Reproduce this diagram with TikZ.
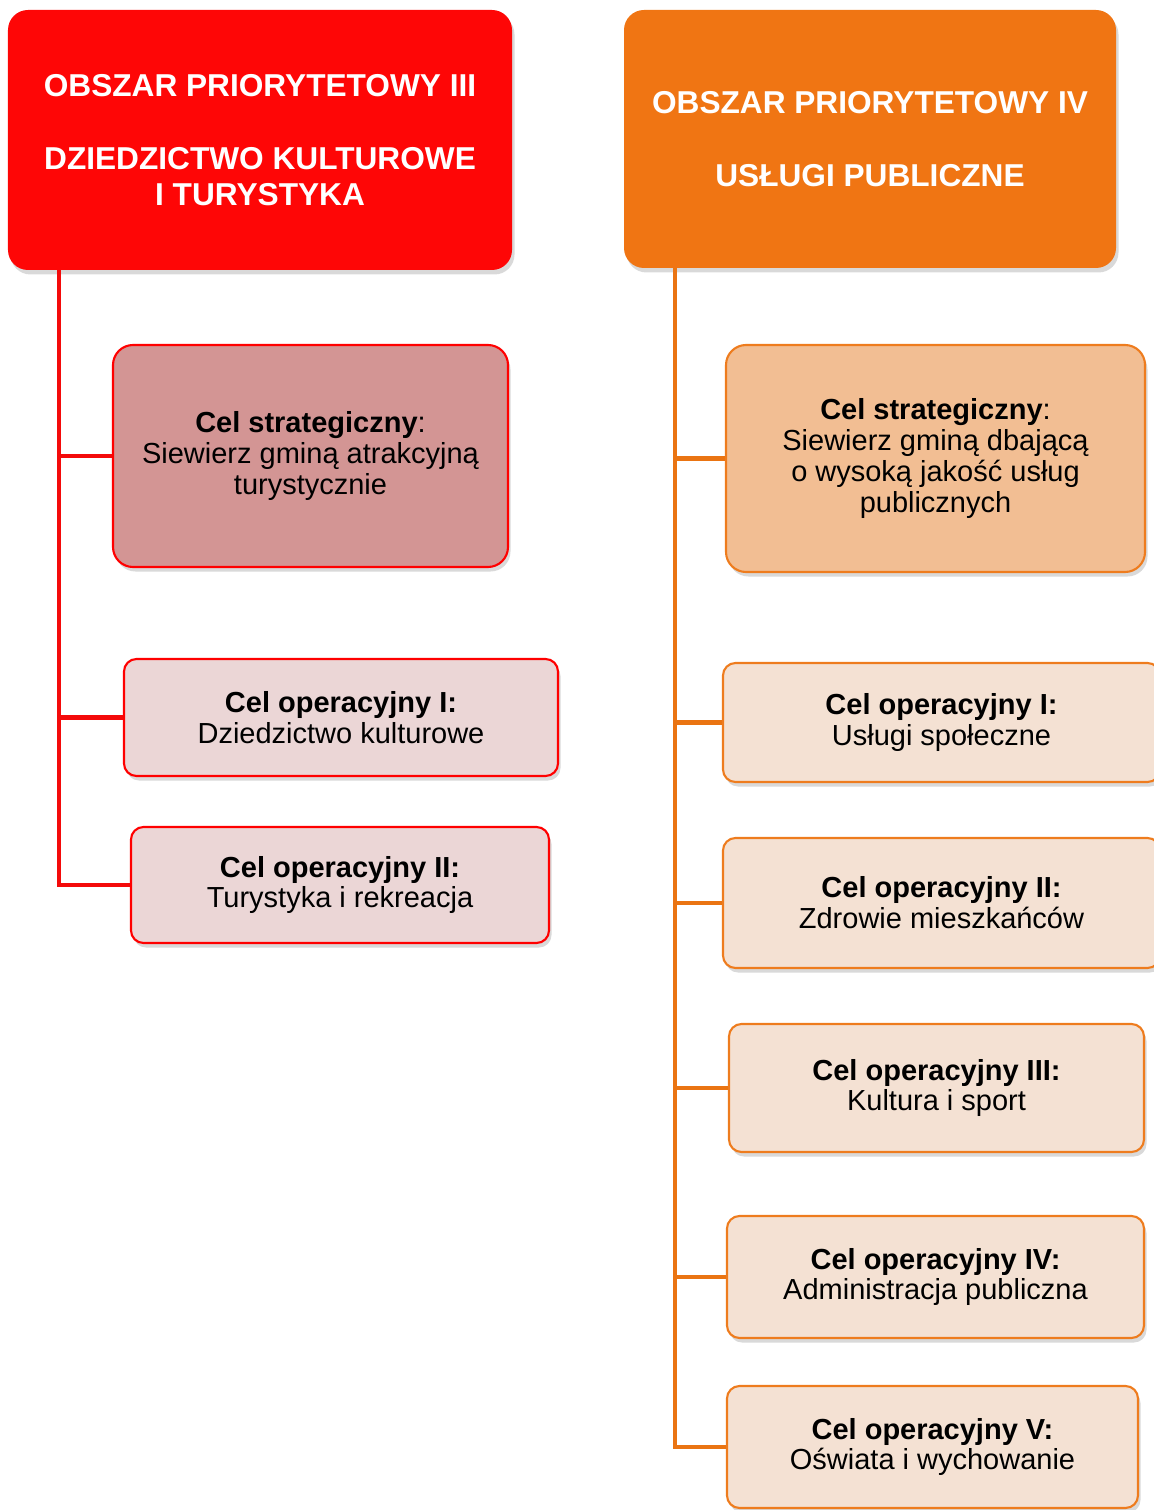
\documentclass[tikz,border=0pt]{standalone}
\usepackage{fontspec}
\setmainfont{Liberation Sans}
\usepackage{xcolor}
\usetikzlibrary{shadows,positioning}

\definecolor{hdrred}{HTML}{FE0606}
\definecolor{hdrorange}{HTML}{F07513}
\definecolor{lnred}{HTML}{F40A0A}
\definecolor{lnorange}{HTML}{EA7412}
\definecolor{stratred}{HTML}{D39594}
\definecolor{opred}{HTML}{EBD6D6}
\definecolor{stratorange}{HTML}{F2BE93}
\definecolor{oporange}{HTML}{F4E1D3}
\definecolor{bdorange}{HTML}{EE7C1E}

\begin{document}
\begin{tikzpicture}[
  shade/.style={drop shadow={opacity=0.3, shadow xshift=0.05cm, shadow yshift=-0.09cm}},
  hdr/.style={rounded corners=0.4cm, align=center, text=white, shade,
              font=\fontsize{18}{20.7}\selectfont\bfseries, inner sep=0pt},
  goal/.style={rounded corners=0.4cm, align=center, line width=1.2pt, shade,
               font=\fontsize{16.5}{17.5}\selectfont, inner sep=0pt},
  opbox/.style={rounded corners=0.25cm, align=center, line width=1.2pt, shade,
                font=\fontsize{16.5}{17.5}\selectfont, inner sep=0pt},
  redline/.style={draw=lnred, line width=2.8pt},
  orline/.style={draw=lnorange, line width=2.8pt}]

  \useasboundingbox (0,0) rectangle (23.06,-30.20);

  % ---- Headers ----
  \node[hdr, fill=hdrred, minimum width=10.08cm, minimum height=5.20cm]
    (hdrL) at (5.20,-2.80)
    {OBSZAR PRIORYTETOWY III\\[20.7pt]DZIEDZICTWO KULTUROWE\\I TURYSTYKA};
  \node[hdr, fill=hdrorange, minimum width=9.84cm, minimum height=5.16cm]
    (hdrR) at (17.40,-2.78)
    {OBSZAR PRIORYTETOWY IV\\[20.7pt]USŁUGI PUBLICZNE};

  % ---- Left column ----
  \node[goal, draw=red, fill=stratred, minimum width=7.90cm, minimum height=4.44cm]
    (stratL) at (6.21,-9.12)
    {\textbf{Cel strategiczny}:\\Siewierz gminą atrakcyjną\\turystycznie};
  \node[opbox, draw=red, fill=opred, minimum width=8.68cm, minimum height=2.34cm]
    (opL1) at (6.82,-14.35) {\textbf{Cel operacyjny I:}\\Dziedzictwo kulturowe};
  \node[opbox, draw=red, fill=opred, minimum width=8.36cm, minimum height=2.32cm]
    (opL2) at (6.80,-17.70) {\textbf{Cel operacyjny II:}\\Turystyka i rekreacja};

  % ---- Right column ----
  \node[goal, draw=bdorange, fill=stratorange, minimum width=8.38cm, minimum height=4.54cm]
    (stratR) at (18.71,-9.17)
    {\textbf{Cel strategiczny}:\\Siewierz gminą dbającą\\o wysoką jakość usług\\publicznych};
  \node[opbox, draw=bdorange, fill=oporange, minimum width=8.74cm, minimum height=2.38cm]
    (opR1) at (18.83,-14.45) {\textbf{Cel operacyjny I:}\\Usługi społeczne};
  \node[opbox, draw=bdorange, fill=oporange, minimum width=8.74cm, minimum height=2.60cm]
    (opR2) at (18.83,-18.06) {\textbf{Cel operacyjny II:}\\Zdrowie mieszkańców};
  \node[opbox, draw=bdorange, fill=oporange, minimum width=8.30cm, minimum height=2.56cm]
    (opR3) at (18.73,-21.76) {\textbf{Cel operacyjny III:}\\Kultura i sport};
  \node[opbox, draw=bdorange, fill=oporange, minimum width=8.34cm, minimum height=2.44cm]
    (opR4) at (18.71,-25.54) {\textbf{Cel operacyjny IV:}\\Administracja publiczna};
  \node[opbox, draw=bdorange, fill=oporange, minimum width=8.22cm, minimum height=2.44cm]
    (opR5) at (18.65,-28.94) {\textbf{Cel operacyjny V:}\\Oświata i wychowanie};

  % ---- Trunks ----
  \coordinate (trunkL) at (1.18,-5.40);
  \coordinate (trunkR) at (13.50,-5.36);

  \draw[redline] (trunkL) |- (opL2.west);
  \draw[redline] (trunkL |- stratL.west) -- (stratL.west);
  \draw[redline] (trunkL |- opL1.west) -- (opL1.west);

  \draw[orline] (trunkR) |- (opR5.west);
  \foreach \n in {stratR,opR1,opR2,opR3,opR4}
    \draw[orline] (trunkR |- \n.west) -- (\n.west);
\end{tikzpicture}
\end{document}
